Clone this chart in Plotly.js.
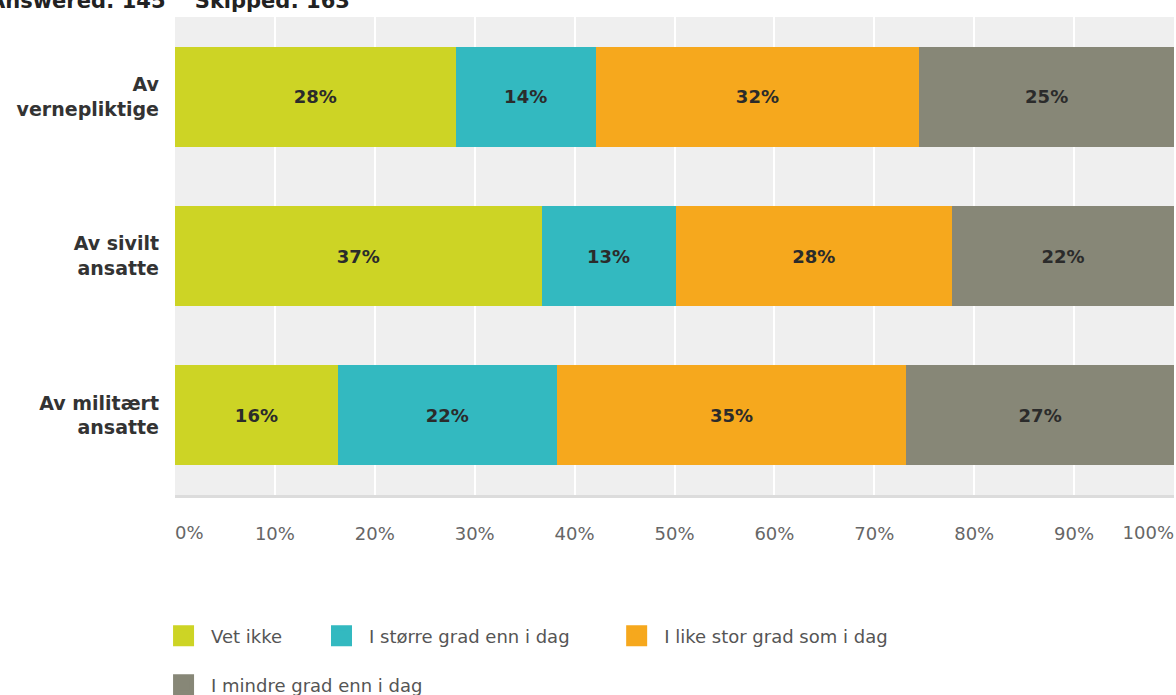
<!DOCTYPE html>
<html>
<head>
<meta charset="utf-8">
<script src="https://cdn.plot.ly/plotly-3.0.1.min.js"></script>
<style>html,body{margin:0;padding:0;background:#fff;}#chart{width:1176px;height:695px;}</style>
</head>
<body>
<div id="chart"></div>
<script>
const categories = ['Av<br>vernepliktige', 'Av sivilt<br>ansatte', 'Av militært<br>ansatte'];
const seriesNames = ['Vet ikke', 'I større grad enn i dag', 'I like stor grad som i dag', 'I mindre grad enn i dag'];
const vetIkke = [28.1, 36.7, 16.3];
const storreGrad = [14.0, 13.4, 21.9];
const likeStorGrad = [32.4, 27.7, 35.0];
const mindreGrad = [25.5, 22.2, 26.8];
const vetIkkeLabels = ['28%', '37%', '16%'];
const storreGradLabels = ['14%', '13%', '22%'];
const likeStorGradLabels = ['32%', '28%', '35%'];
const mindreGradLabels = ['25%', '22%', '27%'];
const tickValues = [10, 20, 30, 40, 50, 60, 70, 80, 90];
const tickLabels = ['10%', '20%', '30%', '40%', '50%', '60%', '70%', '80%', '90%'];
const firstTick = [0], firstTickLabel = ['0%'];
const lastTick = [100], lastTickLabel = ['100%'];
const headerText = 'Answered: 145    Skipped: 163';

const colors = ['#cdd425', '#33b9c0', '#f6a81d', '#878777'];
const values = [vetIkke, storreGrad, likeStorGrad, mindreGrad];
const labels = [vetIkkeLabels, storreGradLabels, likeStorGradLabels, mindreGradLabels];
const legendIds = ['legend', 'legend2', 'legend3', 'legend4'];
const FONT = 'DejaVu Sans';

const barTraces = values.map((v, i) => ({
  type: 'bar',
  orientation: 'h',
  name: seriesNames[i],
  x: v,
  y: categories,
  text: labels[i],
  texttemplate: '%{text}',
  textposition: 'inside',
  insidetextanchor: 'middle',
  constraintext: 'none',
  textfont: {family: FONT, size: 18, color: '#2b2b2b', weight: 'bold'},
  marker: {color: colors[i], line: {width: 0}},
  showlegend: false,
  hoverinfo: 'skip'
}));

// legend entries (square swatches) for each series
const legendTraces = seriesNames.map((n, i) => ({
  type: 'scatter', mode: 'markers', name: n,
  x: [null], y: [null],
  marker: {symbol: 'square', size: 16, color: colors[i], line: {color: colors[i], width: 5}},
  legend: legendIds[i], showlegend: true, hoverinfo: 'skip'
}));

const legendBase = {
  orientation: 'h', xref: 'container', yref: 'container', xanchor: 'left', yanchor: 'middle',
  itemwidth: 45,
  font: {family: FONT, size: 18, color: '#555'}, bgcolor: 'rgba(0,0,0,0)', itemclick: false
};

const tickFont = {family: FONT, size: 18, color: '#666'};

const layout = {
  width: 1176, height: 695,
  margin: {l: 175, r: 2, t: 17, b: 200},
  paper_bgcolor: '#ffffff',
  plot_bgcolor: '#efefef',
  barmode: 'stack',
  bargap: 0.372,
  showlegend: true,
  font: {family: FONT},
  xaxis: {
    range: [0, 100], tickvals: tickValues, ticktext: tickLabels,
    showgrid: true, gridcolor: '#ffffff', gridwidth: 2, zeroline: false,
    showline: true, linecolor: '#dcdcdc', linewidth: 3,
    ticks: '', ticklabelstandoff: 20,
    tickfont: tickFont, fixedrange: true
  },
  xaxis2: {
    overlaying: 'x', anchor: 'y', side: 'bottom', matches: 'x',
    range: [0, 100], tickvals: firstTick, ticktext: firstTickLabel, ticklabelposition: 'outside right',
    showgrid: false, zeroline: false, ticks: '', ticklabelstandoff: 25,
    tickfont: tickFont
  },
  xaxis3: {
    overlaying: 'x', anchor: 'y', side: 'bottom', matches: 'x',
    range: [0, 100], tickvals: lastTick, ticktext: lastTickLabel, ticklabelposition: 'outside left',
    showgrid: false, zeroline: false, ticks: '', ticklabelstandoff: 25,
    tickfont: tickFont
  },
  yaxis: {
    autorange: 'reversed', showgrid: false, zeroline: false, ticks: '',
    ticklabelstandoff: 15,
    tickfont: {family: FONT, size: 19, color: '#333', weight: 'bold'}, fixedrange: true
  },
  legend: Object.assign({}, legendBase, {x: 0.1327, y: 0.085}),
  legend2: Object.assign({}, legendBase, {x: 0.267, y: 0.085}),
  legend3: Object.assign({}, legendBase, {x: 0.518, y: 0.085}),
  legend4: Object.assign({}, legendBase, {x: 0.1327, y: 0.0144}),
  annotations: [{
    text: headerText, xref: 'paper', yref: 'paper', x: -0.188, y: 1, xanchor: 'left', yanchor: 'bottom',
    yshift: 2, showarrow: false, font: {family: FONT, size: 21, color: '#222', weight: 'bold'}
  }]
};

// invisible helper traces bind the extra tick axes
const helper2 = {type: 'scatter', x: [null], y: [categories[0]], xaxis: 'x2', showlegend: false, hoverinfo: 'skip'};
const helper3 = {type: 'scatter', x: [null], y: [categories[0]], xaxis: 'x3', showlegend: false, hoverinfo: 'skip'};

Plotly.newPlot('chart', barTraces.concat(legendTraces, [helper2, helper3]), layout, {displayModeBar: false, staticPlot: true});
</script>
</body>
</html>
